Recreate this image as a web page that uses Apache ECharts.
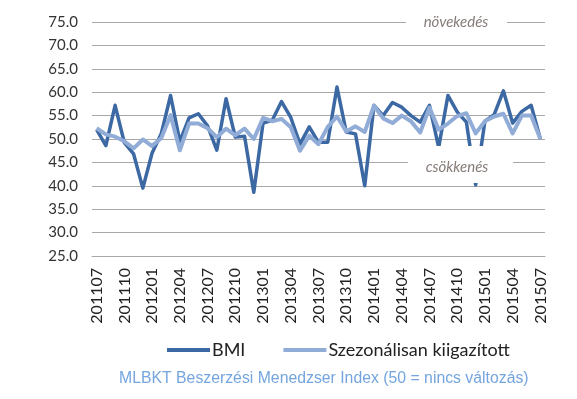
<!DOCTYPE html>
<html>
<head>
<meta charset="utf-8">
<script src="https://cdn.jsdelivr.net/npm/echarts@6/dist/echarts.min.js"></script>
<style>html,body{margin:0;padding:0;background:#fff}#c{width:577px;height:399px}</style>
</head>
<body>
<div id="c"></div>
<script>
var categories = ['201107','201108','201109','201110','201111','201112','201201','201202','201203','201204','201205','201206','201207','201208','201209','201210','201211','201212','201301','201302','201303','201304','201305','201306','201307','201308','201309','201310','201311','201312','201401','201402','201403','201404','201405','201406','201407','201408','201409','201410','201411','201412','201501','201502','201503','201504','201505','201506','201507'];
var bmi = [52.0,48.6,57.2,49.2,46.8,39.5,47.0,51.2,59.3,49.5,54.5,55.4,52.8,47.6,58.6,50.4,50.6,38.6,53.4,54.0,58.0,54.6,48.9,52.6,49.3,49.3,61.1,51.5,51.1,40.0,57.2,55.0,57.8,56.8,55.0,53.6,57.2,48.2,59.3,55.8,53.6,40.2,53.8,55.2,60.3,53.4,55.9,57.2,50.0];
var sa = [52.3,51.0,50.5,49.5,48.0,49.9,48.5,50.2,55.1,47.6,53.3,53.3,52.3,50.4,52.2,50.8,52.2,50.0,54.5,53.8,54.3,52.5,47.5,50.7,48.9,52.6,54.8,51.6,52.7,51.5,57.1,54.4,53.4,55.0,53.8,51.4,56.7,52.0,53.3,54.9,55.5,51.2,53.8,54.8,55.4,51.2,55.0,55.0,50.0];
var seriesNames = ['BMI', 'Szezonálisan kiigazított'];
var titleText = 'MLBKT Beszerzési Menedzser Index (50 = nincs változás)';
var upText = 'növekedés';
var downText = 'csökkenés';

var chart = echarts.init(document.getElementById('c'), null, {renderer: 'canvas'});
chart.setOption({
  animation: false,
  backgroundColor: '#fff',
  title: {
    text: titleText,
    left: 114, top: 366,
    textStyle: {fontFamily: '"Liberation Sans", Arial, sans-serif', fontSize: 15.8, fontWeight: 'normal', color: '#74A5DE'}
  },
  legend: {
    top: 336, left: 162,
    itemWidth: 43, itemHeight: 4, itemGap: 38,
    icon: 'rect',
    textStyle: {fontFamily: 'Lato, sans-serif', fontSize: 18, color: '#222', padding: [0,0,0,-3]},
    data: seriesNames
  },
  grid: {left: 92, right: 32, top: 22, bottom: 143},
  xAxis: {
    type: 'category', data: categories, boundaryGap: true,
    axisLine: {show: true, lineStyle: {color: '#A8A8A8', width: 1}},
    axisTick: {show: false},
    axisLabel: {interval: 2, rotate: 90, margin: 12, fontFamily: 'Lato, sans-serif', fontSize: 16, color: '#222'}
  },
  yAxis: {
    type: 'value', min: 25, max: 75, interval: 5,
    axisLine: {show: false}, axisTick: {show: false},
    splitLine: {lineStyle: {color: '#A8A8A8', width: 1}},
    axisLabel: {formatter: function(v){return v.toFixed(1);}, margin: 14, fontFamily: 'Lato, sans-serif', fontSize: 15, color: '#333'}
  },
  series: [
    {name: seriesNames[0], type: 'line', data: bmi, showSymbol: false, symbol: 'none',
     itemStyle: {color: '#3C69A3'}, lineStyle: {color: '#3C69A3', width: 3.5, join: 'round'}, z: 2},
    {name: seriesNames[1], type: 'line', data: sa, showSymbol: false, symbol: 'none',
     itemStyle: {color: '#91ACD6'}, lineStyle: {color: '#91ACD6', width: 4, join: 'round'}, z: 3}
  ],
  graphic: [
    {type: 'rect', z: 100, shape: {x: 406, y: 13, width: 101, height: 18}, style: {fill: '#fff'}},
    {type: 'text', z: 101, x: 456, y: 22, style: {text: upText, fontFamily: 'Lato, sans-serif', fontStyle: 'italic', fontSize: 15, fill: '#857B78', textAlign: 'center', textVerticalAlign: 'middle'}},
    {type: 'rect', z: 100, shape: {x: 408, y: 146, width: 105, height: 37}, style: {fill: '#fff'}},
    {type: 'text', z: 101, x: 457, y: 167, style: {text: downText, fontFamily: 'Lato, sans-serif', fontStyle: 'italic', fontSize: 15, fill: '#857B78', textAlign: 'center', textVerticalAlign: 'middle'}}
  ]
});
</script>
</body>
</html>
